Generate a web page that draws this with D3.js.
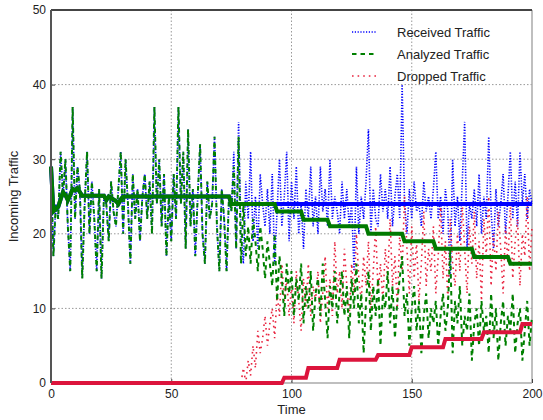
<!DOCTYPE html>
<html>
<head>
<meta charset="utf-8">
<script src="https://cdn.jsdelivr.net/npm/d3@7"></script>
<style>
  body { margin: 0; background: #fff; }
  svg text { font-family: "Liberation Sans", Arial, sans-serif; fill: #222; }
</style>
</head>
<body>
<div id="chart"></div>
<script>
// per-step traffic, t = 0..200
const received = [
  29,17,24,22,31,25,30,21,15,37,22,29,26,14,24,31,20,27,22,15,
  26,14,25,24,19,27,23,21,26,31,20,30,24,16,28,22,26,19,25,28,
  22,27,20,37,24,30,21,28,17,25,19,28,22,37,24,31,18,34,21,26,
  17,25,32,20,16,27,22,24,33,21,15,26,22,15,25,23,31,18,35,20,
  16,27,22,31,19,25,18,28,24,21,26,20,28,16,23,30,21,25,31,19,
  27,22,29,20,24,18,26,22,29,21,25,20,29,23,26,21,30,22,25,23,
  20,27,22,26,21,24,15,29,20,25,22,27,34,20,26,22,21,28,23,26,
  22,29,21,25,28,22,40,24,20,26,22,27,23,24,21,27,23,25,22,26,
  31,22,25,20,26,23,14,30,21,25,19,27,35,18,24,22,26,21,28,20,
  25,22,33,23,18,26,21,24,28,20,25,31,22,27,21,31,24,28,22,26,24
];
const analyzed = [
  29,17,24,22,31,25,30,21,15,37,22,29,26,14,24,31,20,27,22,15,
  26,14,25,24,19,27,23,21,26,31,20,30,24,16,28,22,26,19,25,28,
  22,27,20,37,24,30,21,28,17,25,19,28,22,37,24,31,18,34,21,26,
  17,25,32,20,16,27,22,24,33,21,15,26,22,15,25,23,29,18,33,16,
  24,17,21,16,22,19,15,21,18,14,19,16,13,20,11,17,14,9,16,12,
  15,9,14,11,16,8,13,10,15,7,12,14,9,16,11,6,13,10,15,8,
  12,15,9,13,6,14,10,16,8,12,4,11,15,7,13,9,14,5,12,10,
  15,8,13,6,11,14,17,9,12,5,10,13,7,11,4,9,12,6,10,8,
  11,5,9,12,7,10,18,4,11,8,13,5,9,7,12,3,8,10,5,11,
  7,9,4,12,6,10,3,8,11,5,9,7,12,4,8,10,3,7,11,5,9
];
const dropped = [
  0,0,0,0,0,0,0,0,0,0,0,0,0,0,0,0,0,0,0,0,
  0,0,0,0,0,0,0,0,0,0,0,0,0,0,0,0,0,0,0,0,
  0,0,0,0,0,0,0,0,0,0,0,0,0,0,0,0,0,0,0,0,
  0,0,0,0,0,0,0,0,0,0,0,0,0,0,0,0,0,0,0,0,
  2,0,3,1,5,2,7,4,6,9,5,8,10,6,12,9,16,11,14,9,
  13,8,15,11,7,14,10,16,9,13,11,15,8,12,17,10,14,9,19,12,
  15,10,18,13,9,16,12,20,14,11,17,13,19,10,15,21,12,16,11,18,
  14,22,13,17,10,20,15,25,18,12,21,14,19,11,16,23,13,18,15,21,
  12,17,24,14,19,11,22,16,13,20,15,24,18,12,21,16,23,14,19,11,
  22,17,25,13,20,15,23,18,12,21,16,24,14,19,22,13,20,17,25,15,21
];

// running averages, [time, value] change points
const avgReceived = [
  [0,29],[1,23],[2,23.3],[3,23.6],[4,24.6],[5,25.6],[6,25.2],[7,24.5],[8,25.2],
  [9,26],[10,25.8],[11,26.1],[12,25.6],[13,25.1],[22,25.1],[23,24.5],[24,25],
  [27,24.4],[28,24],[29,24.6],[30,25],[74,25],[75,24],[200,24]
];
const avgAnalyzed = [
  [0,29],[1,23],[2,23.3],[3,23.6],[4,24.6],[5,25.6],[6,25.2],[7,24.5],[8,25.2],
  [9,26],[10,25.8],[11,26.1],[12,25.6],[13,25.1],[22,25.1],[23,24.5],[24,25],
  [27,24.4],[28,24],[29,24.6],[30,25],[74,25],[75,24],[93,24],[94,23],[104,23],
  [105,21.9],[115,21.9],[116,21],[131,21],[132,20],[146,20],[147,19],[159,19],
  [160,18],[175,18],[176,16.9],[190,16.9],[191,16],[200,16]
];
const avgDropped = [
  [0,0],[96,0],[97,0.7],[106,0.7],[107,2],[119,2],[120,3.1],[135,3.1],[136,3.75],
  [149,3.75],[150,4.8],[163,4.8],[164,5.9],[179,5.9],[180,6.8],[195,6.8],[196,7.9],[200,7.9]
];

const xTicks = [0, 50, 100, 150, 200];
const yTicks = [0, 10, 20, 30, 40, 50];
const legendNames = ["Received Traffic", "Analyzed Traffic", "Dropped Traffic"];

const W = 543, H = 420;
const margin = {top: 10, right: 11, bottom: 37, left: 51};
const width = W - margin.left - margin.right,
      height = H - margin.top - margin.bottom;

const svg = d3.select("#chart").append("svg")
  .attr("width", W).attr("height", H)
  .append("g")
  .attr("transform", "translate(" + margin.left + "," + margin.top + ")");

const x = d3.scaleLinear().domain([0, 200]).range([0, width]);
const y = d3.scaleLinear().domain([0, 50]).range([height, 0]);

// grid
svg.append("g").selectAll("line").data(xTicks.slice(1, -1)).join("line")
  .attr("x1", d => x(d)).attr("x2", d => x(d))
  .attr("y1", 0).attr("y2", height)
  .attr("stroke", "#999").attr("stroke-width", 1).attr("stroke-dasharray", "1.5,2");
svg.append("g").selectAll("line").data(yTicks.slice(1, -1)).join("line")
  .attr("y1", d => y(d)).attr("y2", d => y(d))
  .attr("x1", 0).attr("x2", width)
  .attr("stroke", "#999").attr("stroke-width", 1).attr("stroke-dasharray", "1.5,2");

// light frame (right, bottom) sits under the data
svg.append("line").attr("x1", width).attr("x2", width).attr("y1", 0).attr("y2", height)
  .attr("stroke", "#aaa").attr("stroke-width", 1.5);
svg.append("line").attr("x1", 0).attr("x2", width).attr("y1", height).attr("y2", height)
  .attr("stroke", "#aaa").attr("stroke-width", 1.5);

// ticks
const xAxis = d3.axisBottom(x).tickValues(xTicks).tickSize(-4).tickPadding(6);
const yAxis = d3.axisLeft(y).tickValues(yTicks).tickSize(-4).tickPadding(5);
const gx = svg.append("g").attr("transform", "translate(0," + height + ")").call(xAxis);
const gy = svg.append("g").call(yAxis);
[gx, gy].forEach(g => {
  g.select(".domain").remove();
  g.selectAll(".tick line").attr("stroke", "#444");
  g.selectAll(".tick text").style("font-size", "12px").attr("fill", "#222");
});

const line = d3.line().x((d, i) => x(i)).y(d => y(d));
const stepLine = d3.line().x(d => x(d[0])).y(d => y(d[1]));

const plot = svg.append("g");

plot.append("path").datum(received).attr("d", line)
  .attr("fill", "none").attr("stroke", "#0000ff").attr("stroke-width", 1.6)
  .attr("stroke-dasharray", "1.2,1.6");
plot.append("path").datum(dropped).attr("d", line)
  .attr("fill", "none").attr("stroke", "#e8243f").attr("stroke-width", 1.6)
  .attr("stroke-dasharray", "1.6,4");
plot.append("path").datum(analyzed).attr("d", line)
  .attr("fill", "none").attr("stroke", "#008000").attr("stroke-width", 2)
  .attr("stroke-dasharray", "4.5,4");

plot.append("path").datum(avgReceived).attr("d", stepLine)
  .attr("fill", "none").attr("stroke", "#0000ff").attr("stroke-width", 4);
plot.append("path").datum(avgAnalyzed).attr("d", stepLine)
  .attr("fill", "none").attr("stroke", "#007a00").attr("stroke-width", 4);
plot.append("path").datum(avgDropped).attr("d", stepLine)
  .attr("fill", "none").attr("stroke", "#dc143c").attr("stroke-width", 4);

// dark frame (top, left)
svg.append("line").attr("x1", 0).attr("x2", width).attr("y1", 0).attr("y2", 0)
  .attr("stroke", "#444").attr("stroke-width", 2);
svg.append("line").attr("x1", 0).attr("x2", 0).attr("y1", 0).attr("y2", height)
  .attr("stroke", "#555").attr("stroke-width", 2);

// legend
const legendStyles = [
  {color: "#0000ff", dash: "1.2,1.6", w: 1.6},
  {color: "#008000", dash: "4.5,4", w: 2},
  {color: "#e8243f", dash: "1.6,4", w: 1.6}
];
const legend = svg.append("g").attr("transform", "translate(301,22)");
legendNames.forEach((name, i) => {
  const g = legend.append("g").attr("transform", "translate(0," + (i * 22) + ")");
  g.append("line").attr("x1", 0).attr("x2", 24).attr("y1", 0).attr("y2", 0)
    .attr("stroke", legendStyles[i].color).attr("stroke-width", legendStyles[i].w)
    .attr("stroke-dasharray", legendStyles[i].dash);
  g.append("text").attr("x", 45).attr("y", 5).style("font-size", "13px").text(name);
});

// axis labels
svg.append("text")
  .attr("x", width / 2).attr("y", height + 31)
  .style("text-anchor", "middle").style("font-size", "13px")
  .text("Time");
svg.append("text")
  .attr("transform", "rotate(-90)")
  .attr("x", -height / 2).attr("y", -33)
  .style("text-anchor", "middle").style("font-size", "13px")
  .text("Incoming Traffic");
</script>
</body>
</html>
